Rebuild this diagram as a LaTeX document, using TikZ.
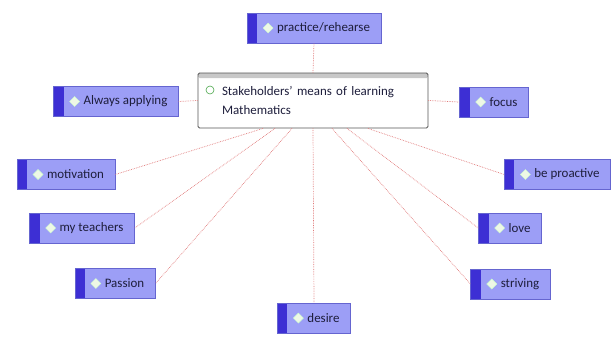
\documentclass[tikz,border=0pt]{standalone}
\usepackage{fontspec}
\setmainfont{Carlito}
\usetikzlibrary{positioning,calc}
\definecolor{ink}{HTML}{1E1E3C}
\definecolor{cfill}{HTML}{9C9EF6}
\definecolor{cstrip}{HTML}{3D2FD4}
\definecolor{cborder}{HTML}{6565D0}
\definecolor{cicon}{HTML}{EEF8E6}
\definecolor{hubline}{HTML}{555555}
\definecolor{hubbar}{HTML}{C8C8C8}
\definecolor{hubicon}{HTML}{4CA84C}
\definecolor{linkred}{HTML}{E07A7A}

\begin{document}
\begin{tikzpicture}[
  x=1bp, y=1bp,
  font=\fontsize{13}{15}\selectfont\color{ink},
  concept/.style={draw=cborder, fill=cfill, line width=0.6bp,
                  minimum height=30bp, inner xsep=11bp, inner ysep=0pt,
                  execute at begin node={\hspace*{19bp}},
                  path picture={
                    \fill[cstrip] (path picture bounding box.south west)
                      rectangle ([xshift=10bp]path picture bounding box.north west);
                    \filldraw[fill=cicon, draw=white!80!green, line width=0.4bp]
                      ([xshift=16bp]path picture bounding box.west)
                      -- ++(5bp,5bp) -- ++(5bp,-5bp) -- ++(-5bp,-5bp) -- cycle;
                  }},
  hub/.style={draw=hubline, fill=white, line width=0.9bp, rounded corners=1.5bp,
              minimum width=230bp, minimum height=55bp, text width=182bp,
              align=left, inner xsep=0pt,
              font=\fontsize{13}{20}\selectfont\color{ink},
              path picture={
                \fill[hubbar] (path picture bounding box.north west)
                  rectangle ([yshift=-5bp]path picture bounding box.north east);
                \draw[hubicon, line width=0.6bp]
                  ([xshift=12bp,yshift=-17bp]path picture bounding box.north west)
                  circle (4bp);
              }},
  link/.style={draw=linkred, densely dotted, line width=0.7bp},
]
\useasboundingbox (0,0) rectangle (613,336);

% ---- Hub ----------------------------------------------------------------------
\node[hub] (hub) at (313,235.5) {Stakeholders’ means of learning\\ Mathematics};

% ---- Concepts, left -----------------------------------------------------------
\node[concept] (applying) at (116,234.5) {Always applying};
\node[concept] (motivation) at (66,161.5) {motivation};
\node[concept] (teachers) at (82,108) {my teachers};
\node[concept] (passion) at (115,52.5) {Passion};

% ---- Concepts, top and bottom -------------------------------------------------
\node[concept] (practice) at (314,308) {practice/rehearse};
\node[concept] (desire) at (314,18) {desire};

% ---- Concepts, right ----------------------------------------------------------
\node[concept] (focus) at (494,234) {focus};
\node[concept] (proactive) at (557.5,161.5) {be proactive};
\node[concept] (love) at (510,108) {love};
\node[concept] (striving) at (510.5,52) {striving};

% ---- Links --------------------------------------------------------------------
\draw[link] (hub.north) -- (practice.south);
\draw[link] (hub.south) -- (desire.north);
\draw[link] (hub.west) -- (applying.east);
\draw[link] (hub.east) -- (focus.west);
\draw[link] ([xshift=-50bp]hub.south) -- (motivation.east);
\draw[link] ([xshift=-38bp]hub.south) -- (teachers.east);
\draw[link] ([xshift=-21bp]hub.south) -- (passion.east);
\draw[link] ([xshift=19bp]hub.south) -- (striving.west);
\draw[link] ([xshift=34bp]hub.south) -- (love.west);
\draw[link] ([xshift=55bp]hub.south) -- (proactive.west);

\end{tikzpicture}
\end{document}
